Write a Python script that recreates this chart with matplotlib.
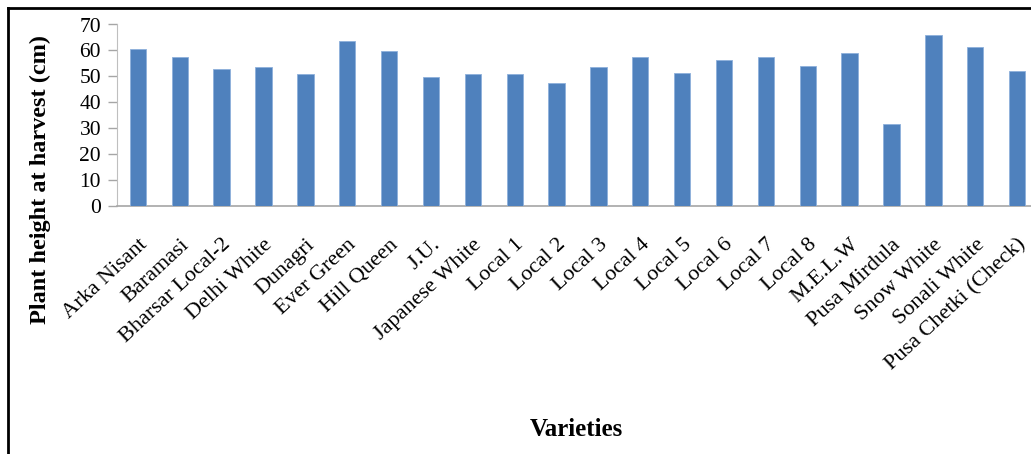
import matplotlib.pyplot as plt
from matplotlib.lines import Line2D

varieties = ['Arka Nisant', 'Baramasi', 'Bharsar Local-2', 'Delhi White', 'Dunagri',
             'Ever Green', 'Hill Queen', 'J.U.', 'Japanese White', 'Local 1', 'Local 2',
             'Local 3', 'Local 4', 'Local 5', 'Local 6', 'Local 7', 'Local 8', 'M.E.L.W',
             'Pusa Mirdula', 'Snow White', 'Sonali White', 'Pusa Chetki (Check)']
heights = [60.6, 57.6, 52.7, 53.5, 50.9, 63.8, 59.7, 49.9, 50.9, 50.9, 47.5,
           53.5, 57.6, 51.4, 56.3, 57.6, 54.0, 59.2, 31.6, 66.1, 61.5, 52.2]
yticks = [0, 10, 20, 30, 40, 50, 60, 70]

W, H, DPI = 1031, 454, 100
plt.rcParams['font.family'] = ['Liberation Serif', 'DejaVu Serif']

fig = plt.figure(figsize=(W / DPI, H / DPI), dpi=DPI)
# axis runs a little past the right edge (chart is cropped there)
ax = fig.add_axes([117 / W, 1 - 206 / H, (1038 - 117) / W, (206 - 24.5) / H])

x = list(range(len(varieties)))
ax.bar(x, heights, width=0.39, color='#4F81BD', edgecolor='#8DB0DB', linewidth=0.6, zorder=3)

ax.set_xlim(-0.5, len(varieties) - 0.5)
ax.set_ylim(0, 70)
ax.set_yticks(yticks)
ax.set_yticklabels([str(v) for v in yticks], fontsize=15.5)
ax.set_xticks(x)
ax.set_xticklabels(varieties, rotation=43, ha='right', rotation_mode='anchor', fontsize=16)
ax.tick_params(axis='x', length=0, pad=21)
ax.tick_params(axis='y', length=6.5, width=1, color='#A6A6A6', pad=5)

for side in ['top', 'right']:
    ax.spines[side].set_visible(False)
ax.spines['left'].set_color('#BFBFBF')
ax.spines['bottom'].set_color('#A6A6A6')
ax.spines['bottom'].set_linewidth(1.2)

fig.text(40 / W, 1 - 180 / H, 'Plant height at harvest (cm)', rotation=90,
         ha='center', va='center', fontsize=17.5, fontweight='bold')
fig.text(576 / W, 1 - 429 / H, 'Varieties', ha='center', va='center',
         fontsize=18, fontweight='bold')

# frame around the figure (cropped on right and bottom)
fig.add_artist(Line2D([8 / W, 1.0], [1 - 8 / H, 1 - 8 / H], transform=fig.transFigure,
                      color='black', linewidth=2))
fig.add_artist(Line2D([8 / W, 8 / W], [0.0, 1 - 8 / H], transform=fig.transFigure,
                      color='black', linewidth=2))

fig.savefig('out.png', dpi=DPI)
